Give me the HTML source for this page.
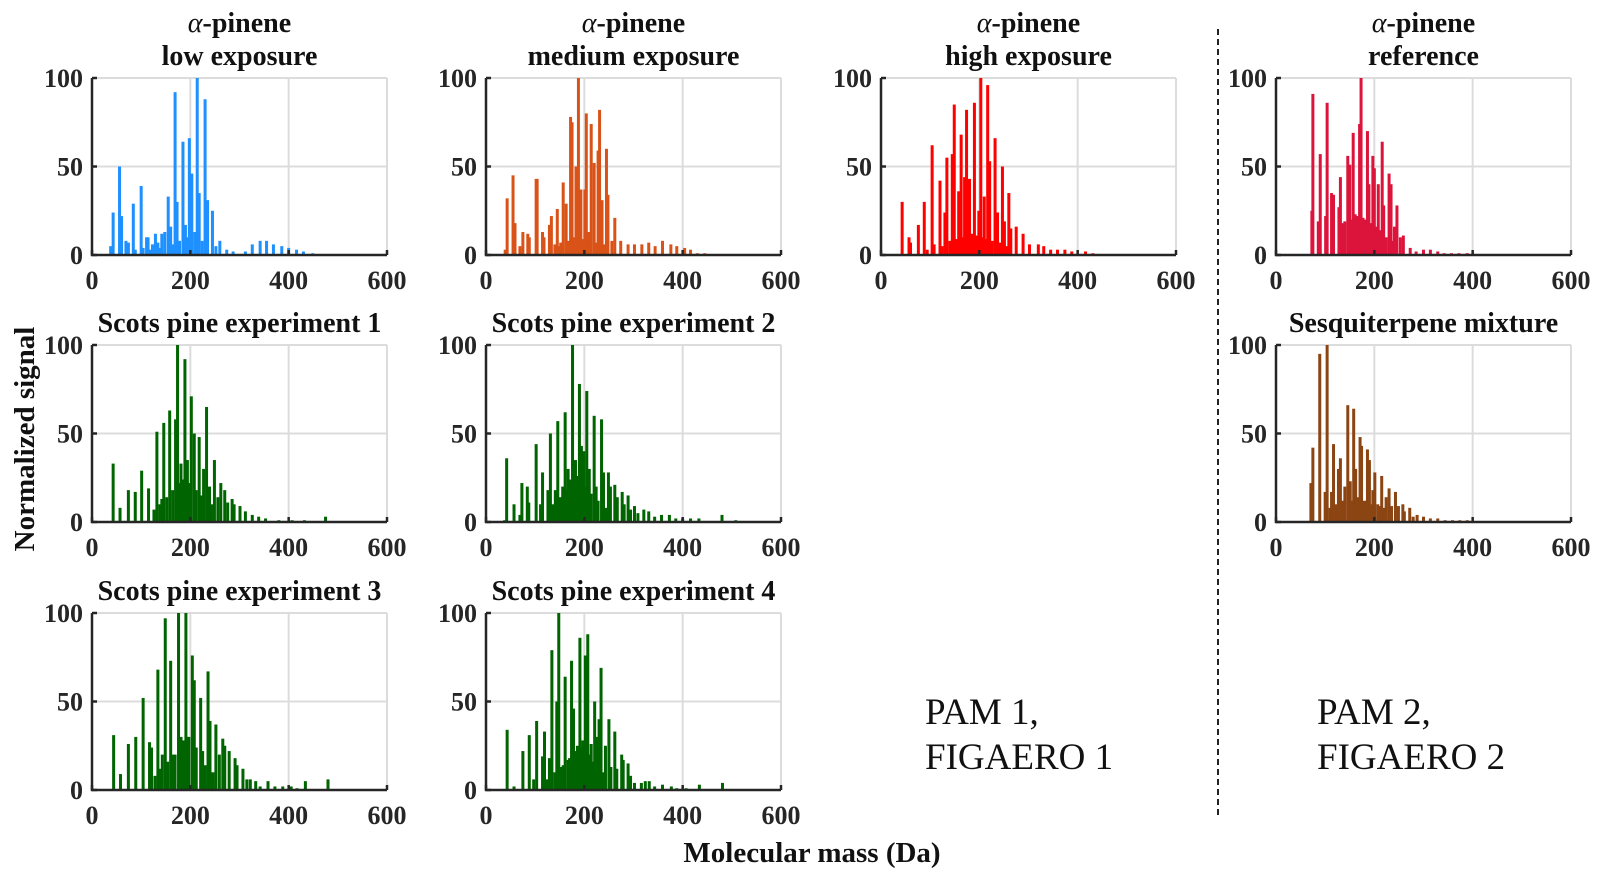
<!DOCTYPE html>
<html><head><meta charset="utf-8"><style>
html,body{margin:0;padding:0;background:#fff;}
svg{display:block;font-family:"Liberation Serif",serif;}
</style></head><body>
<svg id="fig" width="1608" height="883" viewBox="0 0 1608 883" xmlns="http://www.w3.org/2000/svg">
<line x1="1218" y1="29" x2="1218" y2="817" stroke="#222" stroke-width="2" stroke-dasharray="6,4"/>
<text transform="translate(34,439) rotate(-90)" text-anchor="middle" font-size="29" font-weight="bold" fill="#111">Normalized signal</text>
<text x="812" y="862" text-anchor="middle" font-size="29" font-weight="bold" fill="#111">Molecular mass (Da)</text>
<text x="925" y="724" font-size="37" fill="#111">PAM 1,</text>
<text x="925" y="769" font-size="37" fill="#111">FIGAERO 1</text>
<text x="1317" y="724" font-size="37" fill="#111">PAM 2,</text>
<text x="1317" y="769" font-size="37" fill="#111">FIGAERO 2</text>
</svg>
<script>
const xTicks=[0,200,400,600];
const yTicks=[0,50,100];
const blueMass=[38,43,56,60,69,74,84,88,100,104,111,114,123,129,134,142,148,155,160,169,173,185,190,198,203,209,214,218,230,235,245,252,260,274,287,312,326,342,355,369,386,400,416,430,449,120,138,165,178,194,224];
const blueInt=[5,24,50,22,8,7,29,3,39,4,10,10,6,12,7,12,13,33,16,92,30,64,17,66,46,13,100,35,88,31,25,5,8,3,2,2,6,8,8,6,5,4,3,2,1,3,4,6,8,10,8];
const orangeMass=[39,43,55,59,69,75,85,88,102,104,115,118,129,133,145,149,157,163,172,175,183,188,193,201,204,209,214,220,228,231,236,245,248,256,262,274,289,302,317,331,344,359,376,388,404,416,430,445,140,152,168,180,196,212,224,240];
const orangeInt=[3,32,45,18,5,13,12,10,43,43,13,10,17,22,26,5,41,29,78,75,50,100,37,37,80,13,74,52,59,82,31,60,34,8,21,8,6,6,6,7,5,8,6,5,4,3,1,1,6,7,8,10,9,8,7,6];
const redMass=[43,57,60,76,88,94,104,108,120,130,134,145,149,158,163,170,174,180,190,199,203,210,217,221,232,237,247,251,260,264,275,289,302,320,331,345,359,374,388,416,431,124,140,154,166,186,195,206,214,226,242,256];
const redInt=[30,10,7,17,30,3,62,6,42,24,55,57,85,36,68,44,82,43,86,25,100,33,96,53,66,24,50,19,35,15,16,12,6,6,5,3,3,3,2,2,1,5,8,9,10,12,11,10,9,8,7,5];
const crimsonMass=[73,75,86,90,101,104,113,117,128,131,140,146,150,157,161,170,173,177,186,189,197,200,208,216,219,230,234,241,246,253,259,273,285,300,314,329,342,357,372,389,136,152,165,181,193,204,212,224,238];
const crimsonInt=[25,91,19,57,22,86,35,34,27,44,19,56,51,69,23,74,100,21,70,40,56,49,40,64,28,46,40,16,28,10,11,4,2,3,3,2,1,1,1,1,18,20,22,20,18,16,14,10,8];
const sesqMass=[71,75,89,100,104,113,117,127,131,140,146,151,158,162,171,174,186,190,197,201,207,215,224,230,235,243,249,258,261,272,279,287,300,314,329,344,359,374,389,110,122,136,154,166,180,193,210,220];
const sesqInt=[22,42,95,17,100,17,44,30,36,20,66,23,64,30,48,43,41,35,18,28,10,26,14,19,9,17,9,10,6,8,3,4,3,2,2,1,1,1,1,8,10,12,12,14,12,10,9,8];
const exp1Mass=[43,57,74,88,101,115,126,132,142,146,158,170,174,181,189,194,202,208,218,227,233,239,249,256,262,270,276,285,289,301,312,326,339,353,380,407,432,475,138,152,164,177,185,198,212,222,243];
const exp1Int=[33,8,18,17,29,19,7,51,13,56,63,58,100,33,92,35,71,50,48,30,65,20,35,14,22,18,11,13,10,9,6,4,3,2,1,1,1,3,10,14,18,22,24,22,18,15,10];
const exp2Mass=[38,42,57,69,73,84,87,102,111,115,126,131,141,146,156,161,167,176,182,190,194,199,205,210,220,224,235,239,249,253,262,267,277,281,289,294,302,309,321,331,343,357,373,386,400,416,433,480,508,136,151,164,172,186,196,202,214,228,244];
const exp2Int=[1,36,10,4,22,20,11,44,10,28,18,50,18,57,20,62,30,100,35,78,43,40,74,30,60,20,58,28,28,20,21,14,17,10,15,7,9,5,7,6,3,4,4,2,2,2,2,4,1,10,14,18,24,26,24,20,16,12,8];
const exp3Mass=[44,58,74,89,104,117,121,134,143,149,160,164,176,181,191,197,204,208,221,225,236,240,252,259,266,270,279,291,295,307,315,322,333,342,358,372,388,405,417,434,480,128,139,154,169,186,194,212,230,246];
const exp3Int=[31,9,26,30,52,27,24,68,20,97,73,20,100,30,100,30,76,62,52,22,67,39,37,20,29,25,22,18,14,12,6,6,5,2,5,2,2,2,1,5,6,8,12,16,20,28,30,24,14,10];
const exp4Mass=[43,57,75,88,97,103,115,119,129,134,144,148,153,161,167,174,178,186,191,197,202,207,214,221,225,230,234,243,250,254,262,266,276,279,289,294,302,316,324,332,343,359,377,388,407,434,481,124,140,157,170,182,194,210,218,238];
const exp4Int=[34,2,22,31,6,39,19,33,18,79,50,100,13,64,17,73,46,25,86,28,76,88,26,50,30,40,69,25,40,13,33,12,20,17,15,8,4,4,5,5,2,3,2,1,1,3,4,6,10,14,18,22,24,20,16,10];

const colX=[92,486,881,1276], rowY=[78,345,613], W=295, H=177;
const panels=[
 {name:'alpha-pinene-low',r:0,c:0,color:'#1e90ff',t:['α','low exposure'],m:blueMass,v:blueInt},
 {name:'alpha-pinene-medium',r:0,c:1,color:'#d95319',t:['α','medium exposure'],m:orangeMass,v:orangeInt},
 {name:'alpha-pinene-high',r:0,c:2,color:'#ff0000',t:['α','high exposure'],m:redMass,v:redInt},
 {name:'alpha-pinene-reference',r:0,c:3,color:'#dc143c',t:['α','reference'],m:crimsonMass,v:crimsonInt},
 {name:'scots-pine-exp1',r:1,c:0,color:'#006400',t:['Scots pine experiment 1'],m:exp1Mass,v:exp1Int},
 {name:'scots-pine-exp2',r:1,c:1,color:'#006400',t:['Scots pine experiment 2'],m:exp2Mass,v:exp2Int},
 {name:'sesquiterpene-mixture',r:1,c:3,color:'#8b4513',t:['Sesquiterpene mixture'],m:sesqMass,v:sesqInt},
 {name:'scots-pine-exp3',r:2,c:0,color:'#006400',t:['Scots pine experiment 3'],m:exp3Mass,v:exp3Int},
 {name:'scots-pine-exp4',r:2,c:1,color:'#006400',t:['Scots pine experiment 4'],m:exp4Mass,v:exp4Int}
];
const NS='http://www.w3.org/2000/svg';
const svg=document.getElementById('fig');
function mk(tag,attrs,parent){const e=document.createElementNS(NS,tag);for(const k in attrs)e.setAttribute(k,attrs[k]);(parent||svg).appendChild(e);return e;}
panels.forEach(p=>{
  const x0=colX[p.c], y0=rowY[p.r];
  const xs=m=>x0+m/600*W, ys=v=>y0+H-v/100*H;
  const g=mk('g',{});
  
  
  xTicks.slice(1).forEach(t=>{const l=mk('line',{x1:xs(t),x2:xs(t),y1:y0,y2:y0+H,stroke:'#dcdcdc','stroke-width':2},g);
    
    });
  yTicks.slice(1).forEach(t=>{const l=mk('line',{x1:x0,x2:x0+W,y1:ys(t),y2:ys(t),stroke:'#dcdcdc','stroke-width':2},g);
    
    });
  p.m.forEach((m,i)=>{const b=mk('rect',{x:xs(m)-1.5,y:ys(p.v[i]),width:3,height:H-(ys(p.v[i])-y0),fill:p.color},g);
    
    });
  const ax=mk('path',{d:`M${x0},${y0} V${y0+H} H${x0+W}`,fill:'none',stroke:'#262626','stroke-width':2.5},g);
  
  
  xTicks.forEach(t=>{mk('line',{x1:xs(t),x2:xs(t),y1:y0+H,y2:y0+H-5,stroke:'#262626','stroke-width':2.5},g);
    const tl=mk('text',{x:xs(t),y:y0+H+34,'text-anchor':'middle','font-size':26,'font-weight':'bold',fill:'#262626'},g);
    tl.textContent=t;
    
    });
  yTicks.forEach(t=>{mk('line',{x1:x0,x2:x0+5,y1:ys(t),y2:ys(t),stroke:'#262626','stroke-width':2.5},g);
    const tl=mk('text',{x:x0-9,y:ys(t)+9,'text-anchor':'end','font-size':26,'font-weight':'bold',fill:'#262626'},g);
    tl.textContent=t;
    
    });
  const cx=x0+W/2;
  if(p.t.length===2){
    const t1=mk('text',{x:cx,y:y0-46,'text-anchor':'middle','font-size':28,'font-weight':'bold',fill:'#111'},g);
    
    
    const a=mk('tspan',{'font-style':'italic','font-weight':'normal'},t1);a.textContent='α';
    const b=mk('tspan',{},t1);b.textContent='-pinene';
    const t2=mk('text',{x:cx,y:y0-13,'text-anchor':'middle','font-size':28,'font-weight':'bold',fill:'#111'},g);
    t2.textContent=p.t[1];
    
    
  } else {
    const t1=mk('text',{x:cx,y:y0-13,'text-anchor':'middle','font-size':28,'font-weight':'bold',fill:'#111'},g);
    t1.textContent=p.t[0];
    
    
  }
});
</script>
</body></html>
